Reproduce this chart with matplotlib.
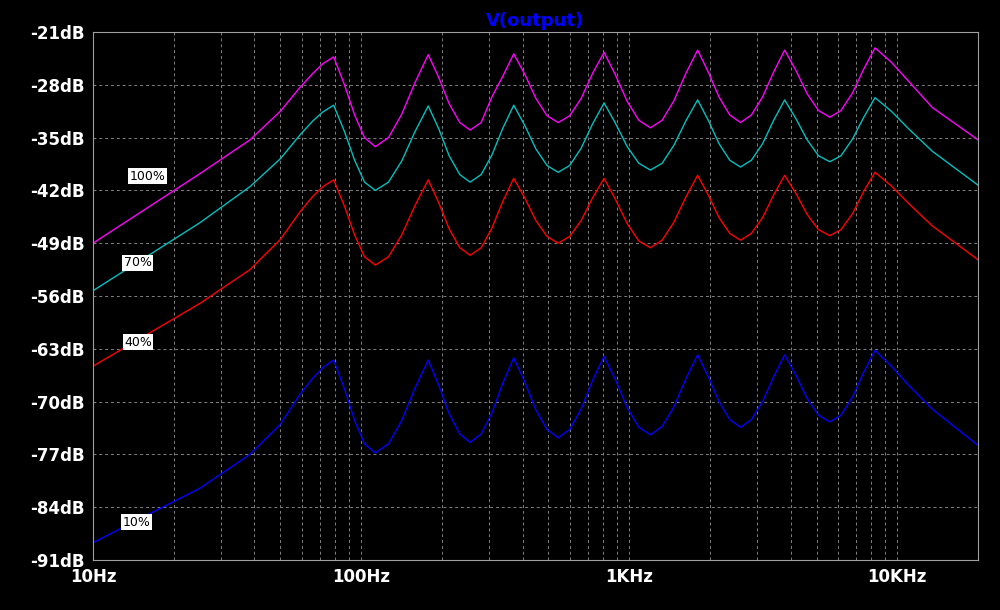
import matplotlib
matplotlib.use("Agg")
import matplotlib.pyplot as plt
from matplotlib.ticker import FixedLocator, NullFormatter

freq = [10, 25, 38.5, 50, 59, 66, 72, 79,
        86.5, 94.6, 103, 113, 126.5, 141.8, 158.9, 178,
        194.7, 213, 233.4, 255, 280.5, 307.6, 337.3, 371,
        408, 448.7, 493.9, 543, 599.8, 662, 729.8, 806,
        889, 983, 1086, 1200, 1327, 1469, 1626, 1800,
        1972, 2163, 2372, 2600, 2856, 3145, 3459, 3800,
        4188, 4613, 5082, 5600, 6166, 6805, 7499, 8260,
        9500, 11000, 13500, 20000]

db_100 = [-49, -39.8, -35.3, -31.5, -28.4, -26.5, -25.2, -24.3,
          -27.9, -32.0, -35.0, -36.2, -35.0, -31.9, -27.7, -24.0,
          -27.0, -30.5, -33.0, -34.0, -33.0, -29.6, -26.9, -23.9,
          -26.6, -29.8, -32.1, -33.0, -32.1, -29.8, -26.5, -23.7,
          -26.7, -30.2, -32.7, -33.7, -32.7, -30.1, -26.5, -23.4,
          -26.3, -29.6, -32.0, -33.0, -32.0, -29.6, -26.3, -23.4,
          -26.1, -29.2, -31.4, -32.3, -31.4, -29.1, -25.9, -23.1,
          -25.0, -27.5, -31.0, -35.3]
db_70 = [-55.3, -46.3, -41.5, -37.8, -34.7, -32.8, -31.6, -30.7,
         -34.1, -38.0, -40.9, -42.0, -40.9, -38.1, -34.2, -30.8,
         -33.8, -37.4, -39.9, -40.9, -39.9, -37.3, -33.8, -30.7,
         -33.4, -36.5, -38.7, -39.6, -38.7, -36.4, -33.2, -30.4,
         -33.1, -36.2, -38.4, -39.3, -38.4, -36.0, -32.8, -30.0,
         -32.7, -35.8, -38.0, -38.9, -38.0, -35.8, -32.7, -30.0,
         -32.5, -35.3, -37.4, -38.2, -37.4, -35.2, -32.3, -29.7,
         -31.5, -33.8, -36.8, -41.3]
db_40 = [-65.3, -57, -52.5, -48.5, -44.9, -42.8, -41.5, -40.6,
         -44.0, -47.9, -50.8, -51.9, -50.8, -47.9, -44.0, -40.6,
         -43.6, -47.1, -49.6, -50.6, -49.6, -47.0, -43.5, -40.4,
         -43.0, -46.0, -48.1, -49.0, -48.1, -46.0, -43.0, -40.4,
         -43.2, -46.4, -48.7, -49.6, -48.6, -46.2, -42.9, -40.0,
         -42.6, -45.6, -47.7, -48.6, -47.7, -45.6, -42.6, -40.0,
         -42.4, -45.2, -47.2, -48.0, -47.2, -45.1, -42.1, -39.6,
         -41.4, -43.7, -46.7, -51.2]
db_10 = [-88.7, -81.5, -77, -73, -69.1, -66.9, -65.5, -64.5,
         -68.2, -72.5, -75.6, -76.8, -75.6, -72.5, -68.2, -64.5,
         -67.8, -71.6, -74.3, -75.4, -74.3, -71.5, -67.6, -64.2,
         -67.4, -71.1, -73.7, -74.8, -73.7, -71.0, -67.2, -64.0,
         -67.1, -70.8, -73.4, -74.4, -73.3, -70.7, -67.0, -63.8,
         -66.7, -70.0, -72.4, -73.4, -72.4, -70.0, -66.7, -63.8,
         -66.5, -69.6, -71.8, -72.7, -71.8, -69.4, -66.1, -63.2,
         -65.3, -67.8, -71.0, -75.8]

series = [("100%", db_100, "#ff00ff", 16, -40.1),
          ("70%", db_70, "#00c0c0", 14.7, -51.6),
          ("40%", db_40, "#ff0000", 14.7, -62.1),
          ("10%", db_10, "#0000ff", 14.5, -86.0)]

x_ticks = [10, 100, 1000, 10000]
x_labels = ["10Hz", "100Hz", "1KHz", "10KHz"]
y_ticks = list(range(-91, -20, 7))
y_labels = [f"{v}dB" for v in y_ticks]

fig = plt.figure(figsize=(10, 6.1), dpi=100, facecolor="black")
ax = fig.add_axes([0.093, 0.082, 0.885, 0.8655], facecolor="black")

for label, vals, color, lx, ly in series:
    ax.plot(freq, vals, color=color, lw=1)
    ax.text(lx, ly, label, color="black", fontsize=9, ha="center", va="center",
            bbox=dict(facecolor="white", edgecolor="none", pad=1))

ax.set_xscale("log")
ax.set_xlim(10, 20000)
ax.set_ylim(-91, -21)
ax.set_xticks(x_ticks)
ax.set_xticklabels(x_labels)
minors = [m * 10 ** d for d in range(1, 5) for m in range(2, 10) if m * 10 ** d <= 20000]
ax.xaxis.set_minor_locator(FixedLocator(minors))
ax.xaxis.set_minor_formatter(NullFormatter())
ax.set_yticks(y_ticks)
ax.set_yticklabels(y_labels)

ax.grid(True, which="both", color="#808080", ls=(0, (3, 3)), lw=0.7)
for s in ax.spines.values():
    s.set_color("#a0a0a0")
ax.tick_params(which="both", length=0, colors="white", labelsize=12, pad=6)
for t in ax.get_xticklabels() + ax.get_yticklabels():
    t.set_fontweight("bold")
ax.set_title("V(output)", color="#0000ff", fontsize=13, fontweight="bold", pad=4)

fig.savefig("out.png", dpi=100, facecolor="black")
